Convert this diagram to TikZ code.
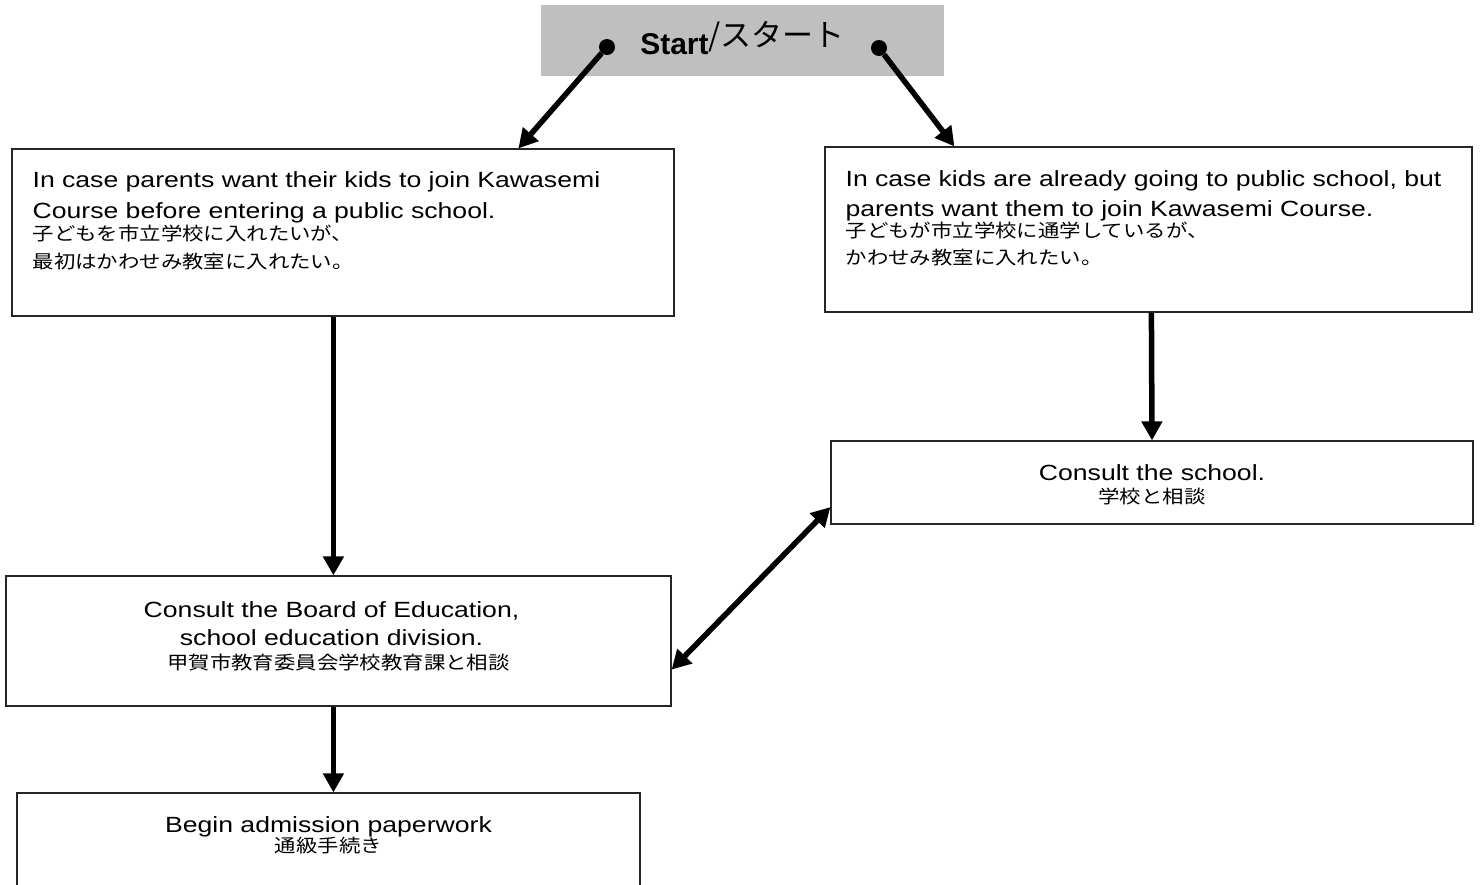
\documentclass[tikz,border=0pt]{standalone}
\usepackage{fontspec}
\setmainfont{Liberation Sans}
\newfontfamily\enfont[FakeStretch=1.21]{Liberation Sans}
\newfontfamily\jpfont[FakeStretch=1.17]{Noto Sans CJK JP}
\newfontfamily\jpstart{Noto Sans CJK JP}
\usetikzlibrary{arrows.meta,positioning}

\tikzset{
  box/.style = {draw=black!85, line width=1.2pt, inner sep=0pt},
  startbox/.style = {fill=gray!50, inner sep=0pt, minimum width=403pt, minimum height=71pt,
    text height=27pt, text depth=0pt, font=\fontsize{30}{36}\selectfont},
  dot/.style = {circle, fill=black, inner sep=0pt, minimum size=16pt},
  entxt/.style = {inner sep=0pt, text width=#1, font=\enfont\fontsize{22}{31}\selectfont},
  jptxt/.style = {inner sep=0pt, text width=#1, font=\jpfont\fontsize{18.3}{28.5}\selectfont},
  link/.style = {line width=5.5pt, -{Triangle[length=19pt,width=20pt]}},
  twolink/.style = {line width=5.5pt, {Triangle[length=19pt,width=20pt]}-{Triangle[length=19pt,width=20pt]}},
}

\begin{document}
\begin{tikzpicture}[x=1pt, y=-1pt]
    \clip (0,0) rectangle (1482,884);

    % start
    \node[startbox] (start) at (742.5,40.5) {\bfseries Start\raisebox{8pt}{\mdseries\jpstart\fontsize{31}{36}\selectfont /スタート}};
    \node[dot] (ldot) at (607,47) {};
    \node[dot] (rdot) at (879,48) {};

    % boxes
    \node[box, minimum width=662pt, minimum height=167pt] (pre) at (343,232.5) {};
    \node[box, minimum width=647pt, minimum height=165pt] (cur) at (1148.5,229.5) {};
    \node[box, minimum width=642pt, minimum height=83pt] (school) at (1152,482.5) {};
    \node[box, minimum width=665pt, minimum height=130pt] (board) at (338.5,641) {};
    \node[box, minimum width=623pt, minimum height=120pt] (paper) at (328.5,853) {};

    % texts
    \node[entxt=630pt, align=left, anchor=base west] (pretxt) at ([shift={(21pt,-39pt)}]pre.north west)
      {In case parents want their kids to join Kawasemi\\Course before entering a public school.};
    \node[jptxt=630pt, align=left, anchor=base west] (prejp) at ([yshift=-53pt]pretxt.base west)
      {子どもを市立学校に入れたいが、\\最初はかわせみ教室に入れたい。};

    \node[entxt=630pt, align=left, anchor=base west, font=\enfont\fontsize{22}{30}\selectfont] (curtxt) at ([shift={(21pt,-40pt)}]cur.north west)
      {In case kids are already going to public school, but\\parents want them to join Kawasemi Course.};
    \node[jptxt=630pt, align=left, anchor=base west, font=\jpfont\fontsize{18.3}{27}\selectfont] (curjp) at ([yshift=-51pt]curtxt.base west)
      {子どもが市立学校に通学しているが、\\かわせみ教室に入れたい。};

    \node[entxt=600pt, align=center, anchor=base] (schooltxt) at ([yshift=-40pt]school.north) {Consult the school.};
    \node[jptxt=600pt, align=center, anchor=base] (schooljp) at ([yshift=-23pt]schooltxt.base) {学校と相談};

    \node[entxt=620pt, align=center, anchor=base, font=\enfont\fontsize{22}{28}\selectfont] (boardtxt) at ([shift={(-7pt,-42pt)}]board.north)
      {Consult the Board of Education,\\school education division.};
    \node[jptxt=620pt, align=center, anchor=base] (boardjp) at ([shift={(7pt,-52pt)}]boardtxt.base) {甲賀市教育委員会学校教育課と相談};

    \node[entxt=600pt, align=center, anchor=base] (papertxt) at ([yshift=-40pt]paper.north) {Begin admission paperwork};
    \node[jptxt=600pt, align=center, anchor=base] (paperjp) at ([yshift=-20pt]papertxt.base) {通級手続き};

    % connectors
    \draw[link] (ldot) -- ([xshift=507pt]pre.north west);
    \draw[link] (rdot) -- ([xshift=130pt]cur.north west);
    \draw[link] ([xshift=322pt]pre.south west) -- ([xshift=328pt]board.north west);
    \draw[link] ([xshift=327pt]cur.south west) -- (school.north);
    \draw[twolink] ([yshift=37pt]board.south east) -- ([yshift=17.5pt]school.south west);
    \draw[link] ([xshift=328pt]board.south west) -- ([xshift=317pt]paper.north west);
\end{tikzpicture}
\end{document}
